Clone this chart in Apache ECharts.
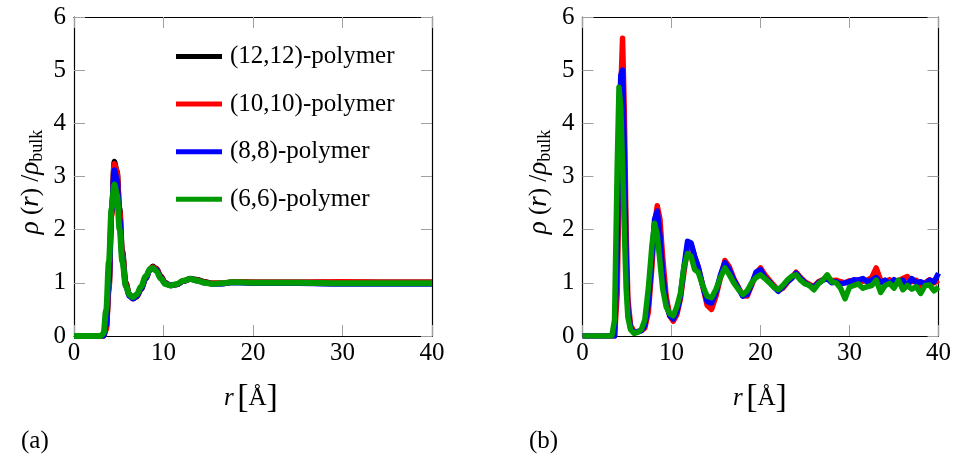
<!DOCTYPE html>
<html><head><meta charset="utf-8">
<script src="https://cdn.jsdelivr.net/npm/echarts@6/dist/echarts.min.js"></script>
<style>html,body{margin:0;padding:0;background:#fff}#c{width:954px;height:457px}</style>
</head><body><div id="c"></div>
<script>
// ---- data ----
var seriesNames = ['(12,12)-polymer', '(10,10)-polymer', '(8,8)-polymer', '(6,6)-polymer'];
var seriesColors = ['#000000', '#ff0000', '#0000ff', '#009900'];
var xTicks = [0, 10, 20, 30, 40];
var yTicks = [0, 1, 2, 3, 4, 5, 6];

// panel (a)
var rA = [0, 3.0, 3.3, 3.6, 3.9, 4.2, 4.5, 4.8, 5.1, 5.4, 5.8, 6.2, 6.6, 7.0, 7.5, 8.0, 8.5, 8.8, 9.2, 9.7, 10.2, 10.8, 11.5, 12.2, 13.0, 13.8, 14.6, 15.5, 16.5, 17.5, 18.5, 20, 25, 30, 35, 40];
var a12 = [0, 0, 0, 0.15, 0.9, 2.3, 3.28, 3.1, 2.4, 1.6, 1.0, 0.78, 0.71, 0.74, 0.88, 1.08, 1.26, 1.31, 1.27, 1.13, 1.0, 0.95, 0.97, 1.03, 1.08, 1.06, 1.02, 0.99, 0.99, 1.01, 1.02, 1.01, 1.01, 1.01, 1.01, 1.01];
var a10 = [0, 0, 0, 0.12, 0.85, 2.25, 3.24, 3.1, 2.35, 1.55, 0.97, 0.77, 0.7, 0.74, 0.88, 1.07, 1.25, 1.3, 1.26, 1.12, 1.0, 0.95, 0.97, 1.03, 1.07, 1.05, 1.01, 0.99, 0.99, 1.01, 1.02, 1.01, 1.01, 1.02, 1.01, 1.01];
var a8  = [0, 0, 0, 0.2, 1.0, 2.35, 3.12, 2.95, 2.2, 1.45, 0.93, 0.75, 0.7, 0.75, 0.89, 1.08, 1.24, 1.28, 1.24, 1.1, 0.99, 0.95, 0.97, 1.03, 1.07, 1.04, 1.0, 0.98, 0.98, 1.0, 1.0, 0.99, 0.99, 0.98, 0.98, 0.98];
var a6  = [0, 0, 0.05, 0.5, 1.4, 2.4, 2.85, 2.65, 2.0, 1.4, 0.93, 0.77, 0.73, 0.78, 0.93, 1.12, 1.26, 1.28, 1.22, 1.08, 0.98, 0.95, 0.98, 1.04, 1.07, 1.04, 1.0, 0.98, 0.99, 1.01, 1.01, 1.0, 1.0, 0.99, 0.99, 0.99];

// panel (b)
var rB = [0, 3.3, 3.6, 3.9, 4.1, 4.3, 4.5, 4.7, 4.9, 5.1, 5.4, 5.8, 6.2, 6.6, 7.0, 7.4, 7.8, 8.1, 8.4, 8.7, 9.0, 9.4, 9.8, 10.2, 10.6, 11.0, 11.4, 11.8, 12.2, 12.6, 13.0, 13.5, 14.0, 14.5, 15.0, 15.5, 16.0, 16.5, 17.0, 17.5, 18.0, 18.5, 19.0, 19.5, 20.0, 20.5, 21.0, 21.5, 22.0, 22.5, 23.0, 23.5, 24.0, 24.5, 25.0, 25.5, 26.0, 26.5, 27.0, 27.5, 28.0, 28.5, 29.0, 29.5, 30.0, 30.5, 31.0, 31.5, 32.0, 32.5, 33.0, 33.5, 34.0, 34.5, 35.0, 35.5, 36.0, 36.5, 37.0, 37.5, 38.0, 38.5, 39.0, 39.5, 40.0];
var b10 = [0, 0, 0, 0.8, 2.8, 4.6, 5.6, 4.2, 2.0, 0.7, 0.2, 0.08, 0.08, 0.1, 0.15, 0.45, 1.3, 2.1, 2.45, 2.2, 1.5, 0.75, 0.38, 0.28, 0.4, 0.7, 1.2, 1.65, 1.72, 1.5, 1.3, 0.95, 0.58, 0.5, 0.75, 1.1, 1.42, 1.3, 1.08, 0.92, 0.76, 0.75, 0.95, 1.18, 1.28, 1.15, 1.05, 0.95, 0.86, 0.9, 1.0, 1.1, 1.2, 1.1, 1.02, 0.97, 0.93, 1.02, 1.06, 1.1, 1.04, 1.05, 1.02, 1.0, 1.04, 1.02, 1.06, 1.03, 1.05, 1.1, 1.28, 1.05, 1.02, 1.06, 1.0, 1.04, 1.08, 1.12, 1.02, 1.05, 0.95, 1.0, 1.06, 1.0, 1.05];
var b8  = [0, 0, 0, 1.5, 3.8, 4.9, 5.0, 3.5, 1.5, 0.5, 0.15, 0.06, 0.08, 0.1, 0.2, 0.6, 1.5, 2.2, 2.35, 1.9, 1.2, 0.6, 0.38, 0.32, 0.45, 0.75, 1.3, 1.78, 1.75, 1.5, 1.3, 0.95, 0.65, 0.62, 0.82, 1.15, 1.38, 1.25, 1.05, 0.9, 0.75, 0.78, 0.98, 1.2, 1.25, 1.1, 1.02, 0.92, 0.84, 0.92, 1.02, 1.08, 1.18, 1.08, 1.0, 0.95, 0.92, 1.0, 1.05, 1.08, 1.0, 1.02, 0.98, 1.0, 1.02, 1.06, 1.05, 1.08, 1.02, 1.05, 1.1, 1.0, 1.05, 0.98, 1.06, 1.02, 1.05, 0.95, 1.08, 1.0, 1.02, 0.98, 1.05, 1.02, 1.18];
var b6  = [0, 0, 0.3, 3.2, 4.68, 4.3, 3.2, 2.0, 0.9, 0.35, 0.12, 0.05, 0.07, 0.12, 0.3, 0.9, 1.7, 2.12, 1.9, 1.4, 0.9, 0.55, 0.42, 0.38, 0.55, 0.8, 1.3, 1.55, 1.5, 1.25, 1.2, 0.95, 0.75, 0.72, 0.88, 1.1, 1.28, 1.15, 1.0, 0.88, 0.78, 0.85, 1.0, 1.1, 1.15, 1.08, 1.0, 0.92, 0.87, 0.95, 1.05, 1.12, 1.15, 1.05, 0.98, 0.95, 0.87, 0.98, 1.05, 1.15, 1.02, 1.0, 0.9, 0.7, 0.92, 0.95, 0.98, 0.9, 0.93, 0.95, 1.05, 0.82, 0.95, 0.99, 0.9, 1.05, 0.87, 0.95, 0.88, 0.93, 0.8, 0.95, 0.96, 0.85, 0.92];

// ---- build ----
function zip(xs, ys) { return xs.map(function (x, i) { return [x, ys[i]]; }); }
var FONT = 'Liberation Serif';
var TICKC = '#a0a0a0';

function xAx(gi, pos, labels) {
  return {
    type: 'value', gridIndex: gi, position: pos, min: xTicks[0], max: xTicks[xTicks.length - 1],
    interval: xTicks[1] - xTicks[0],
    axisLine: { show: true, onZero: false, lineStyle: { color: '#000', width: 1.2 } },
    axisTick: { show: true, inside: true, length: 11, lineStyle: { color: TICKC, width: 1 } },
    axisLabel: { show: labels, color: '#000', fontFamily: FONT, fontSize: 25, margin: 5 },
    splitLine: { show: false }
  };
}
function yAx(gi, pos, labels) {
  return {
    type: 'value', gridIndex: gi, position: pos, min: yTicks[0], max: yTicks[yTicks.length - 1],
    interval: yTicks[1] - yTicks[0],
    axisLine: { show: true, onZero: false, lineStyle: { color: '#000', width: 1.2 } },
    axisTick: { show: true, inside: true, length: 11, lineStyle: { color: TICKC, width: 1 } },
    axisLabel: { show: labels, color: '#000', fontFamily: FONT, fontSize: 25, margin: 8 },
    splitLine: { show: false }
  };
}
function line(name, color, data, xi, yi, smooth, w) {
  return {
    type: 'line', name: name, xAxisIndex: xi, yAxisIndex: yi, data: data,
    showSymbol: false, symbol: 'none', smooth: smooth, smoothMonotone: 'x',
    lineStyle: { color: color, width: w, join: 'round' }, itemStyle: { color: color },
    animation: false
  };
}

var aVals = [a12, a10, a8, a6];
var bVals = [null, b10, b8, b6];
var series = [];
aVals.forEach(function (v, i) { series.push(line(seriesNames[i], seriesColors[i], zip(rA, v), 0, 0, 0.35, i === 3 ? 6 : 5.5)); });
bVals.forEach(function (v, i) { if (v) series.push(line(seriesNames[i], seriesColors[i], zip(rB, v), 2, 2, false, 5.5)); });

var yTitleRich = {
  i: { fontFamily: FONT, fontStyle: 'italic', fontSize: 27, color: '#000' },
  n: { fontFamily: FONT, fontSize: 25, color: '#000' },
  s: { fontFamily: FONT, fontSize: 18, color: '#000', padding: [12, 0, 0, 0] }
};
var yTitleText = '{i|ρ}{n| (}{i|r}{n|) /}{i|ρ}{s|bulk}';
var xTitleRich = {
  i: { fontFamily: FONT, fontStyle: 'italic', fontSize: 25, color: '#000' },
  b: { fontFamily: FONT, fontSize: 34, color: '#000' },
  n: { fontFamily: FONT, fontSize: 25, color: '#000' }
};
var xTitleText = '{i|r} {b|[}{n|Å}{b|]}';

var chart = echarts.init(document.getElementById('c'), null, { renderer: 'canvas' });
chart.setOption({
  animation: false,
  backgroundColor: '#fff',
  grid: [
    { left: 74, top: 17, width: 358, height: 319 },
    { left: 582.5, top: 17, width: 356.5, height: 319 }
  ],
  xAxis: [xAx(0, 'bottom', true), xAx(0, 'top', false), xAx(1, 'bottom', true), xAx(1, 'top', false)],
  yAxis: [yAx(0, 'left', true), yAx(0, 'right', false), yAx(1, 'left', true), yAx(1, 'right', false)],
  legend: {
    data: seriesNames, orient: 'vertical', left: 171, top: 39, itemWidth: 46, itemHeight: 5,
    itemGap: 22.6, icon: 'rect', selectedMode: false,
    textStyle: { fontFamily: FONT, fontSize: 25, color: '#000', padding: [0, 0, 0, 3] }
  },
  graphic: [
    { type: 'text', x: 31, y: 182, rotation: Math.PI / 2, style: { text: yTitleText, rich: yTitleRich, align: 'center', verticalAlign: 'middle' } },
    { type: 'text', x: 539, y: 182, rotation: Math.PI / 2, style: { text: yTitleText, rich: yTitleRich, align: 'center', verticalAlign: 'middle' } },
    { type: 'text', x: 251, y: 398, style: { text: xTitleText, rich: xTitleRich, align: 'center', verticalAlign: 'middle' } },
    { type: 'text', x: 760, y: 398, style: { text: xTitleText, rich: xTitleRich, align: 'center', verticalAlign: 'middle' } },
    { type: 'text', x: 21, y: 441, style: { text: '(a)', font: '25px ' + FONT, fill: '#000', verticalAlign: 'middle' } },
    { type: 'text', x: 529, y: 441, style: { text: '(b)', font: '25px ' + FONT, fill: '#000', verticalAlign: 'middle' } }
  ],
  series: series
});
</script></body></html>
